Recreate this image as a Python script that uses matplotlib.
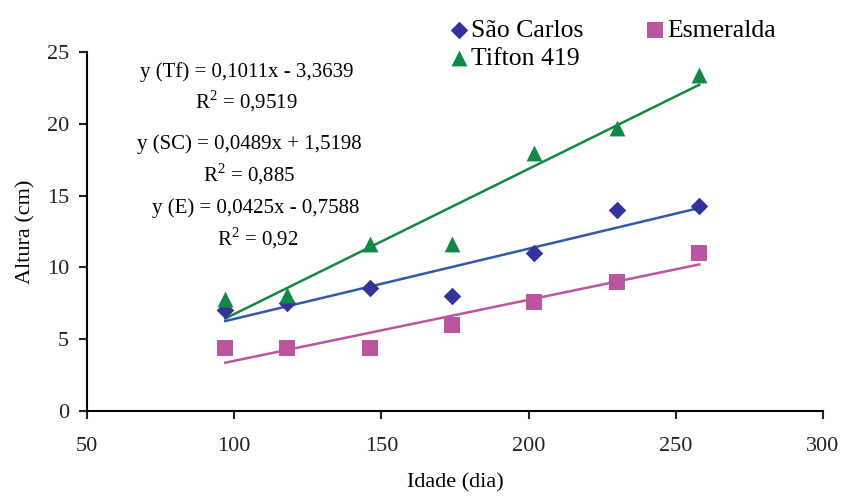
import numpy as np
import matplotlib.pyplot as plt

plt.rcParams["font.family"] = ["Liberation Serif", "DejaVu Serif"]
plt.rcParams["mathtext.fontset"] = "custom"
plt.rcParams["mathtext.rm"] = "Liberation Serif"

# idade (dias) e altura (cm)
idade = [97, 118, 146, 174, 202, 230, 258]
sao_carlos = [7.0, 7.5, 8.6, 8.0, 11.0, 14.0, 14.3]
esmeralda = [4.4, 4.4, 4.4, 6.0, 7.6, 9.0, 11.0]
tifton = [7.8, 8.1, 11.6, 11.6, 18.0, 19.7, 23.4]

# coeficientes das retas (a, b) como no grafico
coef_sc = [0.0489, 1.5198]
coef_e = [0.0425, -0.7588]
coef_tf = [0.1011, -3.3639]

c_sc, c_sc_line = "#333399", "#3358AA"
c_e = "#BB55A0"
c_tf = "#118844"

fig = plt.figure(figsize=(8.44, 5.0), dpi=100)
ax = fig.add_axes([0.103, 0.178, 0.872, 0.718])

x = np.array(idade)
xl = np.array([x.min(), x.max()])

ax.plot(xl, coef_tf[0] * xl + coef_tf[1], color=c_tf, lw=1.8, zorder=2)
ax.plot(xl, coef_sc[0] * xl + coef_sc[1], color=c_sc_line, lw=1.8, zorder=2)
ax.plot(xl, coef_e[0] * xl + coef_e[1], color=c_e, lw=1.8, zorder=2)

ax.scatter(x, sao_carlos, marker="D", s=80, color=c_sc, label="São Carlos", zorder=3, linewidths=0)
ax.scatter(x, tifton, marker="^", s=130, color=c_tf, label="Tifton 419", zorder=3, linewidths=0)
ax.scatter(x, esmeralda, marker="s", s=120, color=c_e, label="Esmeralda", zorder=3, linewidths=0)

ax.set_xlim(50, 300)
ax.set_ylim(0, 25)
ax.set_xticks(range(50, 301, 50))
ax.set_yticks(range(0, 26, 5))
for s in ["top", "right"]:
    ax.spines[s].set_visible(False)
for s in ["left", "bottom"]:
    ax.spines[s].set_linewidth(1.5)
ax.tick_params(direction="out", length=6, width=1.5, labelsize=16, pad=7, colors="#222222")
ax.tick_params(axis="x", pad=13)

ax.set_xlabel("Idade (dia)", fontsize=16, labelpad=12)
ax.set_ylabel("Altura (cm)", fontsize=16, labelpad=8)

fs = 15
ax.text(104.2, 23.6, "y (Tf) = 0,1011x - 3,3639", ha="center", va="center", fontsize=fs)
ax.text(104.2, 21.6, r"R$^{\mathrm{2}}$ = 0,9519", ha="center", va="center", fontsize=fs)
ax.text(105.3, 18.6, "y (SC) = 0,0489x + 1,5198", ha="center", va="center", fontsize=fs)
ax.text(105.3, 16.5, r"R$^{\mathrm{2}}$ = 0,885", ha="center", va="center", fontsize=fs)
ax.text(107.3, 14.1, "y (E) = 0,0425x - 0,7588", ha="center", va="center", fontsize=fs)
ax.text(108.0, 12.05, r"R$^{\mathrm{2}}$ = 0,92", ha="center", va="center", fontsize=fs)

fig.legend(loc="upper left", bbox_to_anchor=(451 / 844, 0.962), ncol=2, frameon=False,
           fontsize=18.5, handletextpad=0.18, columnspacing=2.5, labelspacing=0.2,
           borderaxespad=0, borderpad=0, handlelength=0.6)

fig.savefig("out.png", dpi=100)
